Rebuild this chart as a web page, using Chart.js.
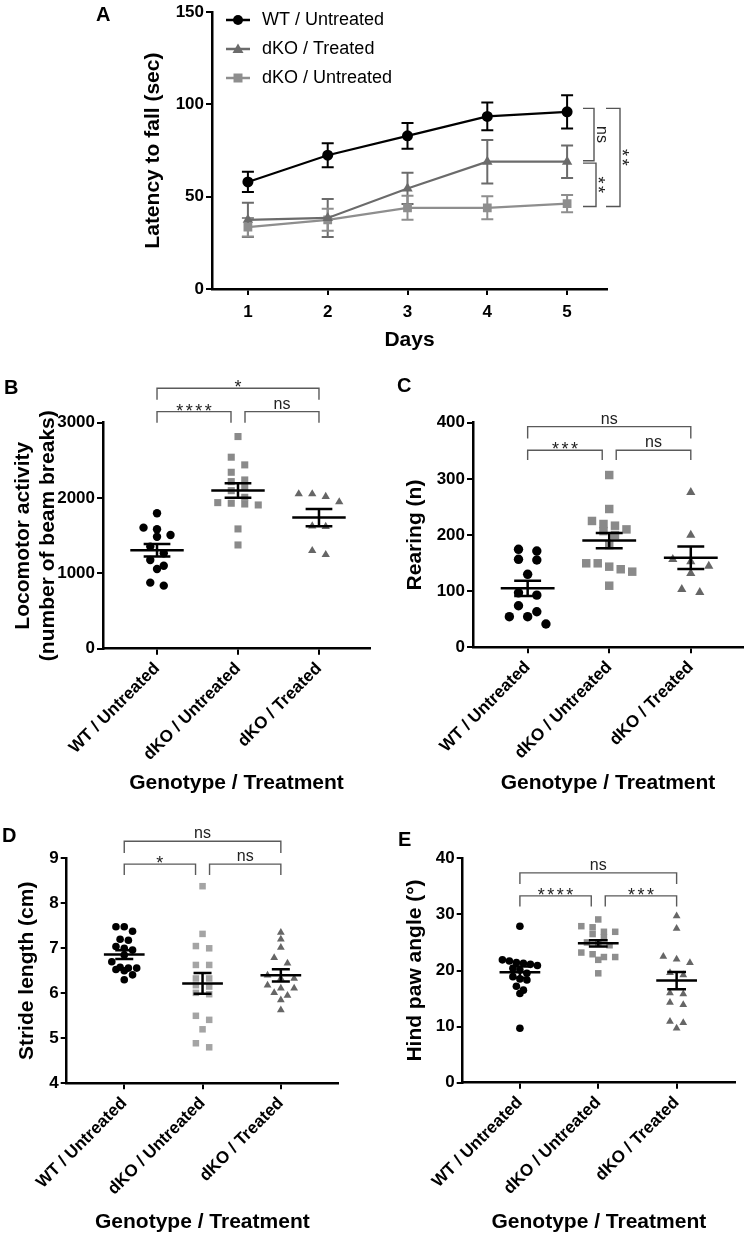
<!DOCTYPE html>
<html>
<head>
<meta charset="utf-8">
<script src="https://cdn.jsdelivr.net/npm/chart.js@4.4.1/dist/chart.umd.min.js"></script>
<style>
  html, body { margin: 0; padding: 0; background: #fff; }
  #wrap { position: relative; width: 750px; height: 1235px; }
  #wrap canvas { position: absolute; left: 0; top: 0; }
  .lbl { position: absolute; font: bold 20px "Liberation Sans", Arial, sans-serif; line-height: 20px; color: #000; }
</style>
</head>
<body>
<div id="wrap">
  <canvas id="cA" width="750" height="1235"></canvas>
  <canvas id="cB" width="750" height="1235"></canvas>
  <canvas id="cC" width="750" height="1235"></canvas>
  <canvas id="cD" width="750" height="1235"></canvas>
  <canvas id="cE" width="750" height="1235"></canvas>
  <div class="lbl" style="left:96px;top:4px">A</div>
  <div class="lbl" style="left:4px;top:377px">B</div>
  <div class="lbl" style="left:397px;top:375px">C</div>
  <div class="lbl" style="left:2px;top:825px">D</div>
  <div class="lbl" style="left:398px;top:829px">E</div>
</div>
<script>
// panel A - rotarod
const days = [1, 2, 3, 4, 5];
const wtA = [58, 72.5, 83, 93.5, 96];
const wtAErr = [5.5, 6.5, 7, 7.5, 9];
const trtA = [37.5, 38.5, 54.5, 69, 69];
const trtAErr = [9.3, 10.3, 8.5, 11.8, 8.8];
const untA = [33.5, 37.5, 44, 44, 46.3];
const untAErr = [5, 6, 6.5, 6.2, 4.7];

// panels B-E: group order WT / Untreated, dKO / Untreated, dKO / Treated
const groups = ['WT / Untreated', 'dKO / Untreated', 'dKO / Treated'];
const cats = [1, 2, 3];

const locoWT = [1798, 1607, 1586, 1510, 1487, 1355, 1267, 1178, 1102, 1058, 877, 837];
const locoKO = [2816, 2542, 2440, 2342, 2240, 2218, 2150, 2098, 2010, 1921, 1908, 1931, 1939, 1590, 1377];
const locoTr = [2054, 2054, 2019, 1948, 1620, 1629, 1248, 1301];
const locoMean = [1307, 2100, 1740];
const locoSem = [84, 95, 115];

const rearWT = [174.5, 171.5, 155.5, 156.7, 130, 93, 97, 63.4, 74, 54.5, 54.5, 41.5];
const rearKO = [306.8, 246.3, 219.6, 210, 216.6, 225, 207, 200, 182, 143.6, 149.6, 134.7, 139, 149.6, 109.7];
const rearTr = [276, 200, 156.7, 152.5, 144.8, 131.8, 98, 103.3];
const rearMean = [105, 190, 159.6];
const rearSem = [13.6, 13.5, 20];

const strideWT = [7.48, 7.48, 7.38, 7.2, 7.18, 7.04, 7.0, 6.96, 6.85, 6.7, 6.58, 6.56, 6.56, 6.53, 6.5, 6.41, 6.3];
const strideKO = [8.38, 7.32, 7.05, 7.0, 6.63, 6.63, 6.33, 6.33, 6.18, 6.15, 6.01, 5.98, 5.5, 5.41, 5.2, 4.89, 4.8];
const strideTr = [7.35, 7.2, 7.02, 6.79, 6.67, 6.4, 6.33, 6.33, 6.18, 6.11, 6.11, 6.01, 5.95, 5.85, 5.63];
const strideMean = [6.86, 6.22, 6.4];
const strideSem = [0.095, 0.23, 0.135];

const pawWT = [27.9, 21.9, 21.7, 21.3, 21.1, 21.4, 20.9, 20.4, 20.1, 19.5, 18.9, 18.5, 18.3, 17.2, 16.5, 15.9, 9.7];
const pawKO = [29.1, 27.9, 27.7, 26.9, 26.9, 26.5, 25.9, 25, 24.8, 24.5, 23.2, 22.9, 22.4, 22.4, 21.9, 19.5];
const pawTr = [29.7, 27.5, 22.5, 22, 21.4, 19.6, 19.2, 16.0, 15.8, 14.3, 13.9, 10.9, 10.7, 9.7];
const pawMean = [19.7, 24.85, 18.2];
const pawSem = [1.0, 0.55, 1.55];

const family = '"Liberation Sans", Arial, Helvetica, sans-serif';
Chart.defaults.font.family = family;
Chart.defaults.color = '#000';
Chart.defaults.animation = false;

const tickFont = { size: 17, weight: 'bold' };
const titleFont = { size: 21, weight: 'bold' };
const axisBorder = { color: '#000', width: 2.5 };
const axisGrid = { drawOnChartArea: false, color: '#000', lineWidth: 2, tickLength: 6 };

// significance labels: stars are set larger and spaced out
function sigText(ctx, t, x, y) {
  const star = t.includes('*');
  ctx.font = (star ? '18px ' : '16px ') + family;
  ctx.letterSpacing = star ? '2.5px' : '0px';
  ctx.fillText(t, x + (star ? 1.2 : 0), y);
}

// ---------- panel A ----------
function legendIcon(color, style) {
  const c = document.createElement('canvas');
  c.width = 30; c.height = 14;
  const g = c.getContext('2d');
  g.strokeStyle = color; g.fillStyle = color; g.lineWidth = 2.5;
  g.beginPath(); g.moveTo(3, 7); g.lineTo(27, 7); g.stroke();
  g.beginPath();
  if (style === 'circle') g.arc(15, 7, 5, 0, Math.PI * 2);
  if (style === 'rect') g.rect(10.5, 2.5, 9, 9);
  if (style === 'triangle') { g.moveTo(15, 1.5); g.lineTo(20.5, 11); g.lineTo(9.5, 11); g.closePath(); }
  g.fill();
  return c;
}

const errorBars = {
  id: 'errorBars',
  beforeDatasetsDraw(chart) {
    const { ctx } = chart, x = chart.scales.x, y = chart.scales.y;
    chart.data.datasets.forEach(ds => {
      ctx.save();
      ctx.strokeStyle = ds.borderColor;
      ctx.lineWidth = 2;
      ds.data.forEach((p, i) => {
        const px = x.getPixelForValue(p.x);
        const t = y.getPixelForValue(p.y + ds.err[i]);
        const b = y.getPixelForValue(p.y - ds.err[i]);
        ctx.beginPath();
        ctx.moveTo(px, t); ctx.lineTo(px, b);
        ctx.moveTo(px - 6, t); ctx.lineTo(px + 6, t);
        ctx.moveTo(px - 6, b); ctx.lineTo(px + 6, b);
        ctx.stroke();
      });
      ctx.restore();
    });
  }
};

// day-5 comparisons drawn to the right of the plot
const sigA = [
  { hi: 97.9, lo: 69.5, dx0: -24, dx: -13, text: 'ns' },
  { hi: 68.2, lo: 44.7, dx0: -24, dx: -11, text: '**' },
  { hi: 97.9, lo: 44.7, dx0: -1, dx: 13, text: '**' }
];
const sideBrackets = {
  id: 'sideBrackets',
  afterDraw(chart) {
    const { ctx, chartArea } = chart, y = chart.scales.y;
    ctx.save();
    ctx.strokeStyle = '#555';
    ctx.fillStyle = '#222';
    ctx.lineWidth = 1.4;
    ctx.textAlign = 'center';
    sigA.forEach(s => {
      const x0 = chartArea.right + s.dx0, x1 = chartArea.right + s.dx;
      const t = y.getPixelForValue(s.hi), b = y.getPixelForValue(s.lo);
      ctx.beginPath();
      ctx.moveTo(x0, t); ctx.lineTo(x1, t); ctx.lineTo(x1, b); ctx.lineTo(x0, b);
      ctx.stroke();
      ctx.save();
      const star = s.text.includes('*');
      ctx.translate(x1 + (star ? -4 : 3), (t + b) / 2);
      ctx.rotate(Math.PI / 2);
      sigText(ctx, s.text, 0, 0);
      ctx.restore();
    });
    ctx.restore();
  }
};

const seriesA = [
  { label: 'WT / Untreated', vals: wtA, err: wtAErr, color: '#000', style: 'circle', r: 5.5 },
  { label: 'dKO / Treated', vals: trtA, err: trtAErr, color: '#6b6b6b', style: 'triangle', r: 6 },
  { label: 'dKO / Untreated', vals: untA, err: untAErr, color: '#8e8e8e', style: 'rect', r: 6.2 }
];

new Chart(document.getElementById('cA'), {
  type: 'line',
  data: {
    datasets: seriesA.map(s => ({
      label: s.label,
      data: days.map((d, i) => ({ x: d, y: s.vals[i] })),
      err: s.err,
      borderColor: s.color,
      backgroundColor: s.color,
      pointBackgroundColor: s.color,
      pointBorderColor: s.color,
      pointBorderWidth: 0,
      pointStyle: s.style,
      pointRadius: s.r,
      borderWidth: 2.2,
      tension: 0,
      icon: legendIcon(s.color, s.style)
    }))
  },
  options: {
    responsive: false,
    animation: false,
    layout: { padding: { left: 140.4, top: 7, right: 143, bottom: 882.4 } },
    plugins: {
      tooltip: { enabled: false },
      legend: {
        position: 'chartArea',
        align: 'start',
        labels: {
          usePointStyle: true,
          pointStyleWidth: 30,
          padding: 11,
          color: '#000',
          font: { size: 18 },
          generateLabels: chart => chart.data.datasets.map((ds, i) => ({
            text: ds.label, pointStyle: ds.icon, datasetIndex: i,
            fillStyle: ds.borderColor, strokeStyle: ds.borderColor, lineWidth: 0, fontColor: '#000'
          }))
        }
      }
    },
    scales: {
      x: {
        type: 'linear', min: 0.55, max: 5.5,
        afterBuildTicks: s => { s.ticks = days.map(v => ({ value: v })); },
        afterFit: s => { s.height = 63.6; },
        border: axisBorder, grid: axisGrid,
        ticks: { font: tickFont, color: '#000', padding: 7 },
        title: { display: true, text: 'Days', font: titleFont, color: '#000', padding: 0 }
      },
      y: {
        min: 0, max: 150,
        afterFit: s => { s.width = 71.6; },
        border: axisBorder, grid: axisGrid,
        ticks: { stepSize: 50, font: tickFont, color: '#000', padding: 2, callback: v => v },
        title: { display: true, text: 'Latency to fall (sec)', font: titleFont, color: '#000', padding: 0 }
      }
    }
  },
  plugins: [errorBars, sideBrackets]
});

// ---------- panels B-E ----------
// rows of nearby values are spread out sideways and centred, like a column scatter
function spread(values, center, pxX, pxY, step, near) {
  const order = values.map((v, i) => i).sort((a, b) => values[b] - values[a]);
  const rows = [];
  order.forEach(i => {
    const row = rows[rows.length - 1];
    if (row && (values[row[0]] - values[i]) * pxY < near) row.push(i);
    else rows.push([i]);
  });
  const xs = [];
  rows.forEach(row => row.forEach((i, j) => {
    xs[i] = center + (j - (row.length - 1) / 2) * step / pxX;
  }));
  return values.map((v, i) => ({ x: xs[i], y: v }));
}

function meanSem(means, sems, mw, cw) {
  return {
    id: 'meanSem',
    afterDatasetsDraw(chart) {
      const { ctx } = chart, x = chart.scales.x, y = chart.scales.y;
      ctx.save();
      ctx.strokeStyle = '#000';
      ctx.lineWidth = 2.5;
      means.forEach((m, i) => {
        const c = cats[i];
        const ym = y.getPixelForValue(m), yt = y.getPixelForValue(m + sems[i]), yb = y.getPixelForValue(m - sems[i]);
        ctx.beginPath();
        ctx.moveTo(x.getPixelForValue(c - mw), ym); ctx.lineTo(x.getPixelForValue(c + mw), ym);
        ctx.moveTo(x.getPixelForValue(c), yt); ctx.lineTo(x.getPixelForValue(c), yb);
        ctx.moveTo(x.getPixelForValue(c - cw), yt); ctx.lineTo(x.getPixelForValue(c + cw), yt);
        ctx.moveTo(x.getPixelForValue(c - cw), yb); ctx.lineTo(x.getPixelForValue(c + cw), yb);
        ctx.stroke();
      });
      ctx.restore();
    }
  };
}

function brackets(levels, labels) {
  return {
    id: 'brackets',
    afterDraw(chart) {
      const { ctx } = chart, x = chart.scales.x, y = chart.scales.y;
      const X = v => x.getPixelForValue(v), Y = v => y.getPixelForValue(v);
      const gap = 7;
      ctx.save();
      ctx.strokeStyle = '#5a5a5a';
      ctx.fillStyle = '#222';
      ctx.lineWidth = 1.4;
      ctx.textAlign = 'center';
      const one = (x1, x2, line, leg, t) => {
        ctx.beginPath();
        ctx.moveTo(x1, Y(leg)); ctx.lineTo(x1, Y(line)); ctx.lineTo(x2, Y(line)); ctx.lineTo(x2, Y(leg));
        ctx.stroke();
        sigText(ctx, t, (x1 + x2) / 2, Y(line) + (t.includes('*') ? 5 : -3));
      };
      one(X(1), X(2) - gap, levels[0], levels[1], labels[0]);
      one(X(2) + gap, X(3), levels[0], levels[1], labels[1]);
      one(X(1), X(3), levels[2], levels[3], labels[2]);
      ctx.restore();
    }
  };
}

function dotPlot(id, p) {
  const pxX = (p.box[2] - p.box[0]) / (p.xr[1] - p.xr[0]);
  const pxY = (p.box[3] - p.box[1]) / (p.yr[1] - p.yr[0]);
  const looks = [
    { color: '#000', style: 'circle', r: p.r[0] },
    { color: p.squareColor, style: 'rect', r: p.r[1] },
    { color: '#666', style: 'triangle', r: p.r[2] }
  ];
  new Chart(document.getElementById(id), {
    type: 'scatter',
    data: {
      datasets: p.series.map((vals, i) => ({
        label: groups[i],
        data: spread(vals, cats[i], pxX, pxY, p.step[i], p.near),
        pointStyle: looks[i].style,
        pointRadius: looks[i].r,
        pointBackgroundColor: looks[i].color,
        pointBorderColor: looks[i].color,
        pointBorderWidth: 0,
        clip: false
      }))
    },
    options: {
      responsive: false,
      animation: false,
      layout: { padding: { left: p.padLeft, top: p.box[1], right: 750 - p.box[2], bottom: 1235 - p.titleBottom } },
      plugins: { legend: { display: false }, tooltip: { enabled: false } },
      scales: {
        x: {
          type: 'linear', min: p.xr[0], max: p.xr[1],
          afterBuildTicks: s => { s.ticks = cats.map(v => ({ value: v })); },
          afterFit: s => { s.height = p.titleBottom - p.box[3]; },
          border: axisBorder, grid: axisGrid,
          ticks: {
            font: tickFont, color: '#000', padding: 4, minRotation: 45, maxRotation: 45, autoSkip: false,
            callback: v => groups[v - 1] || ''
          },
          title: { display: true, text: 'Genotype / Treatment', font: titleFont, color: '#000', padding: 0 }
        },
        y: {
          min: p.yr[0], max: p.yr[1],
          afterFit: s => { s.width = p.box[0] - p.padLeft; },
          border: axisBorder, grid: axisGrid,
          ticks: { stepSize: p.yStep, font: tickFont, color: '#000', padding: 2, callback: v => v },
          title: { display: true, text: p.yTitle, font: titleFont, color: '#000', padding: 0 }
        }
      }
    },
    plugins: [meanSem(p.means, p.sems, p.mw, p.cw), brackets(p.levels, p.labels)]
  });
}

dotPlot('cB', {
  box: [103, 422.7, 370, 648.7], padLeft: 10.4, titleBottom: 795.6,
  xr: [0.333, 3.63], yr: [0, 3000], yStep: 1000,
  yTitle: ['Locomotor activity', '(number of beam breaks)'],
  series: [locoWT, locoKO, locoTr], means: locoMean, sems: locoSem, squareColor: '#8a8a8a',
  r: [4.2, 5, 4.8], step: [13.5, 13.5, 13.5], near: 8, mw: 0.33, cw: 0.165,
  levels: [3147, 3000, 3458, 3303], labels: ['****', 'ns', '*']
});

dotPlot('cC', {
  box: [473, 422.7, 743, 647.3], padLeft: 402.4, titleBottom: 795.6,
  xr: [0.33, 3.64], yr: [0, 400], yStep: 100,
  yTitle: 'Rearing (n)',
  series: [rearWT, rearKO, rearTr], means: rearMean, sems: rearSem, squareColor: '#8a8a8a',
  r: [4.7, 6, 5.3], step: [18.3, 11.5, 18], near: 9, mw: 0.33, cw: 0.165,
  levels: [351, 333.6, 393, 372], labels: ['***', 'ns', 'ns']
});

dotPlot('cD', {
  box: [66.7, 858.3, 338, 1083.3], padLeft: 14.4, titleBottom: 1234.6,
  xr: [0.265, 3.73], yr: [4, 9], yStep: 1,
  yTitle: 'Stride length (cm)',
  series: [strideWT, strideKO, strideTr], means: strideMean, sems: strideSem, squareColor: '#a4a4a4',
  r: [3.8, 4.6, 4.5], step: [8.3, 13.3, 13.3], near: 6.5, mw: 0.26, cw: 0.115,
  levels: [8.87, 8.63, 9.38, 9.12], labels: ['*', 'ns', 'ns']
});

dotPlot('cE', {
  box: [462.7, 858.3, 735, 1082.7], padLeft: 402.4, titleBottom: 1234.6,
  xr: [0.27, 3.745], yr: [0, 40], yStep: 10,
  yTitle: 'Hind paw angle (°)',
  series: [pawWT, pawKO, pawTr], means: pawMean, sems: pawSem, squareColor: '#8e8e8e',
  r: [3.8, 4.6, 4.5], step: [7, 11.3, 13.3], near: 6.5, mw: 0.26, cw: 0.12,
  levels: [33.3, 31.4, 37.4, 35.4], labels: ['****', '***', 'ns']
});
</script>
</body>
</html>
